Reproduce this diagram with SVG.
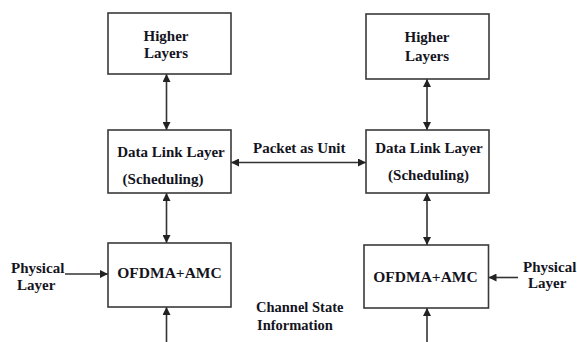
<svg xmlns="http://www.w3.org/2000/svg" width="577" height="342" viewBox="0 0 577 342">
<defs>
<style>
.box{fill:#fff;stroke:#3a3a3a;stroke-width:1.6}
.t{font-family:"Liberation Serif","Times New Roman",serif;font-weight:bold;font-size:15px;fill:#14141e}
.c{text-anchor:middle}
.ln{stroke:#333;stroke-width:1.6;fill:none}
</style>
<marker id="ah" viewBox="0 0 10 10" refX="10" refY="5" markerWidth="8" markerHeight="8" markerUnits="userSpaceOnUse" orient="auto-start-reverse">
<path d="M0,0 L10,5 L0,10 z" fill="#222"/>
</marker>
</defs>
<rect width="577" height="342" fill="#fff"/>
<g id="connectors">
<line class="ln" x1="166.5" y1="74" x2="166.5" y2="130" marker-start="url(#ah)" marker-end="url(#ah)"/>
<line class="ln" x1="166.5" y1="193" x2="166.5" y2="243" marker-start="url(#ah)" marker-end="url(#ah)"/>
<line class="ln" x1="166.5" y1="342" x2="166.5" y2="307" marker-end="url(#ah)"/>
<line class="ln" x1="65" y1="274" x2="108" y2="274" marker-end="url(#ah)"/>
<line class="ln" x1="231" y1="162.5" x2="366" y2="162.5" marker-start="url(#ah)" marker-end="url(#ah)"/>
<line class="ln" x1="427" y1="79" x2="427" y2="130" marker-start="url(#ah)" marker-end="url(#ah)"/>
<line class="ln" x1="427" y1="193" x2="427" y2="245" marker-start="url(#ah)" marker-end="url(#ah)"/>
<line class="ln" x1="427" y1="342" x2="427" y2="308" marker-end="url(#ah)"/>
<line class="ln" x1="518" y1="277.5" x2="488.5" y2="277.5" marker-end="url(#ah)"/>
</g>
<g id="higher-left">
<rect class="box" x="108" y="13" width="123" height="61"/>
<text class="t c" x="166" y="41">Higher</text>
<text class="t c" x="166" y="58">Layers</text>
</g>
<g id="dll-left">
<rect class="box" x="108" y="130" width="123" height="63"/>
<text class="t c" x="171" y="157">Data Link Layer</text>
<text class="t c" x="163" y="184">(Scheduling)</text>
</g>
<g id="ofdma-left">
<rect class="box" x="108" y="243" width="123" height="64"/>
<text class="t c" x="169.5" y="278" style="font-size:15.5px">OFDMA+AMC</text>
</g>
<g id="phys-left">
<text class="t" x="11" y="273">Physical</text>
<text class="t" x="17" y="290">Layer</text>
</g>
<g id="higher-right">
<rect class="box" x="366" y="14" width="123" height="65"/>
<text class="t c" x="427" y="42">Higher</text>
<text class="t c" x="427" y="61">Layers</text>
</g>
<g id="dll-right">
<rect class="box" x="366" y="130" width="123" height="63"/>
<text class="t c" x="429" y="153">Data Link Layer</text>
<text class="t c" x="428.5" y="180">(Scheduling)</text>
</g>
<g id="ofdma-right">
<rect class="box" x="364" y="245" width="124.5" height="63"/>
<text class="t c" x="425.5" y="282" style="font-size:15.5px">OFDMA+AMC</text>
</g>
<g id="phys-right">
<text class="t" x="523" y="272">Physical</text>
<text class="t" x="528" y="288">Layer</text>
</g>
<g id="labels">
<text class="t" x="253" y="153">Packet as Unit</text>
<text class="t" x="256" y="312" style="font-size:14.5px">Channel State</text>
<text class="t" x="257" y="330" style="font-size:14.5px">Information</text>
</g>
</svg>
